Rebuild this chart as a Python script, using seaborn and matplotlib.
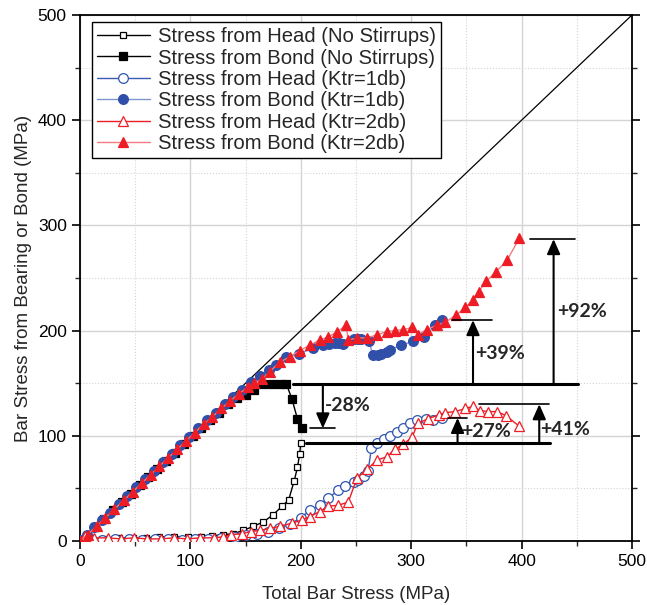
import numpy as np
import pandas as pd
import seaborn as sns
import matplotlib.pyplot as plt
from matplotlib.ticker import MultipleLocator

# Head / bond stress (MPa)
head_ns_x = [0, 10, 22, 35, 48, 60, 72, 85, 98, 110, 120, 130, 139, 148, 157, 166, 175, 183, 189, 194, 197, 199, 200]
head_ns_y = [0, 2, 2, 3, 3, 3, 4, 4, 4, 4, 5, 6, 7, 10, 14, 18, 25, 33, 39, 57, 70, 83, 93]

bond_ns_x = [0, 6, 14, 22, 30, 38, 46, 54, 62, 70, 78, 86, 94, 102, 110, 118, 126, 134, 142, 150, 158, 166, 174, 181, 187, 192, 197, 201]
bond_ns_y = [0, 5, 13, 21, 29, 37, 45, 53, 61, 68, 76, 84, 92, 100, 107, 115, 122, 130, 136, 139, 144, 149, 149, 149, 149, 135, 116, 107]

head_k1_x = [0, 10, 20, 32, 44, 56, 68, 80, 92, 104, 116, 128, 140, 150, 160, 170, 180, 190, 200, 208, 217, 225, 234, 240, 248, 252, 257, 261,
             264, 269, 275, 281, 287, 293, 299, 305, 313, 320, 328]
head_k1_y = [1, 2, 1, 2, 2, 1, 2, 2, 1, 2, 2, 3, 4, 6, 7, 9, 12, 16, 22, 29, 34, 41, 48, 52, 56, 58, 62, 67,
             88, 93, 97, 100, 104, 107, 112, 115, 116, 115, 117]

bond_k1_x = [0, 6, 13, 20, 27, 35, 43, 51, 59, 67, 75, 83, 91, 99, 107, 115, 123, 131, 139, 147, 155, 163, 171, 178, 187, 198, 211, 220,
             226, 231, 235, 238, 248, 252, 255, 262, 265, 270, 273, 278, 281, 291, 302, 312, 322, 328]
bond_k1_y = [0, 6, 13, 20, 27, 35, 43, 51, 59, 67, 75, 83, 91, 99, 107, 115, 122, 130, 137, 144, 151, 157, 163, 167, 175, 178, 183, 186,
             187, 188, 188, 187, 192, 192, 192, 190, 177, 177, 178, 180, 182, 186, 190, 194, 205, 210]

head_k2_x = [0, 5, 13, 25, 37, 49, 61, 73, 85, 97, 109, 121, 130, 137, 147, 155, 163, 172, 181, 192, 201, 208, 217, 225, 234, 243,
             251, 260, 269, 278, 285, 293, 301, 306, 315, 325, 331, 340, 349, 356, 362, 370, 378, 386, 398]
head_k2_y = [0, 5, 3, 3, 2, 3, 2, 2, 3, 2, 3, 3, 4, 6, 7, 9, 10, 12, 14, 17, 20, 23, 28, 33, 34, 37,
             60, 68, 77, 80, 87, 92, 99, 112, 116, 120, 122, 123, 126, 128, 124, 123, 123, 119, 109]

bond_k2_x = [0, 7, 15, 23, 31, 40, 48, 56, 64, 72, 80, 88, 96, 104, 112, 120, 128, 136, 144, 152, 158, 165, 172, 181, 190, 199, 208,
             217, 225, 233, 241, 243, 251, 260, 269, 278, 285, 293, 301, 306, 314, 323, 331, 341, 349, 356, 361, 368, 377, 387, 398]
bond_k2_y = [0, 6, 14, 22, 30, 39, 47, 55, 63, 71, 79, 87, 95, 103, 111, 118, 126, 133, 140, 146, 150, 154, 161, 170, 175, 181, 186,
             191, 194, 199, 205, 191, 193, 193, 196, 199, 200, 201, 203, 196, 201, 205, 208, 215, 222, 229, 237, 247, 256, 267, 288]

diag = [0, 500]

# annotation levels (MPa)
base_ns_bond = 149
base_ns_head = 93
drop_ns = 107
peak_k1_bond = 210
peak_k2_bond = 287
peak_k1_head = 117
peak_k2_head = 130

sns.set_theme(style='ticks')
plt.rcParams['font.family'] = ['Liberation Sans', 'DejaVu Sans']

fig = plt.figure(figsize=(6.47, 6.05), dpi=100)
ax = fig.add_axes([0.1236, 0.1058, 0.8532, 0.8694])

ax.plot(diag, diag, color='black', lw=0.9, zorder=2)

series = [
    (head_ns_x, head_ns_y, 'Stress from Head (No Stirrups)', 's', 'white', 'black', 'black', 5),
    (bond_ns_x, bond_ns_y, 'Stress from Bond (No Stirrups)', 's', 'black', 'black', 'black', 5.5),
    (head_k1_x, head_k1_y, 'Stress from Head (Ktr=1db)', 'o', 'white', '#2f55b0', '#3a5bb5', 7),
    (bond_k1_x, bond_k1_y, 'Stress from Bond (Ktr=1db)', 'o', '#2f4fa8', '#2f4fa8', '#7f96cf', 7),
    (head_k2_x, head_k2_y, 'Stress from Head (Ktr=2db)', '^', 'white', '#ee1c24', '#ee1c24', 7),
    (bond_k2_x, bond_k2_y, 'Stress from Bond (Ktr=2db)', '^', '#ee1c24', '#ee1c24', '#f27c80', 7.5),
]
for xs, ys, lab, mk, fc, ec, lc, ms in series:
    df = pd.DataFrame({'x': xs, 'y': ys})
    sns.lineplot(data=df, x='x', y='y', ax=ax, sort=False, estimator=None,
                 color=lc, lw=1.0, marker=mk, markersize=ms, markerfacecolor=fc,
                 markeredgecolor=ec, markeredgewidth=0.9, label=lab, zorder=3)

# annotations
ax.plot([193, 451], [base_ns_bond, base_ns_bond], color='black', lw=2.2, zorder=4)
ax.plot([205, 426], [base_ns_head, base_ns_head], color='black', lw=2.2, zorder=4)

arrow = dict(arrowstyle='-|>,head_length=0.45,head_width=0.2', color='black', lw=1.5,
             mutation_scale=20, shrinkA=0, shrinkB=0)
def mark(xa, y0, y1, x_lo, x_hi, txt, tx, ty):
    ax.annotate('', xy=(xa, y1), xytext=(xa, y0), arrowprops=arrow, zorder=5)
    ax.plot([x_lo, x_hi], [y1, y1], color='black', lw=1.2, zorder=4)
    ax.text(tx, ty, txt, fontsize=14, fontweight='bold', family=['Lato', 'DejaVu Sans'],
            ha='left', va='center', zorder=6)

mark(220, base_ns_bond, drop_ns, 208, 231, '-28%', 222, 129)
mark(356, base_ns_bond, peak_k1_bond, 337, 373, '+39%', 358, 178)
mark(429, base_ns_bond, peak_k2_bond, 408, 448, '+92%', 432, 218)
mark(342, base_ns_head, peak_k1_head, 333, 351, '+27%', 345, 104)
mark(416, base_ns_head, peak_k2_head, 361, 425, '+41%', 417, 106)

ax.set_xlim(0, 500)
ax.set_ylim(0, 500)
ax.xaxis.set_major_locator(MultipleLocator(100))
ax.yaxis.set_major_locator(MultipleLocator(100))
ax.xaxis.set_minor_locator(MultipleLocator(50))
ax.yaxis.set_minor_locator(MultipleLocator(50))
ax.grid(which='major', color='#d4d4d4', lw=1.0, ls='-')
ax.grid(which='minor', color='#d4d4d4', lw=0.8, ls=':')
ax.set_axisbelow(True)
ax.tick_params(which='major', direction='out', length=6, width=1.2, labelsize=12.5, colors='black')
ax.tick_params(which='minor', direction='out', length=3.5, width=1.0)
ax.tick_params(which='both', right=True, top=False)
for s in ax.spines.values():
    s.set_linewidth(1.3)
    s.set_color('black')

ax.set_xlabel('Total Bar Stress (MPa)', fontsize=13.5, labelpad=12)
ax.set_ylabel('Bar Stress from Bearing or Bond (MPa)', fontsize=13.5, labelpad=4)

leg = ax.legend(loc='upper left', bbox_to_anchor=(0.0217, 0.9867), fontsize=14.6, frameon=True,
                fancybox=False, framealpha=1, edgecolor='black', handlelength=2.6,
                borderpad=0.25, labelspacing=0.12, handletextpad=0.4, borderaxespad=0)
leg.get_frame().set_linewidth(1.0)

fig.savefig('out.png', dpi=100)
